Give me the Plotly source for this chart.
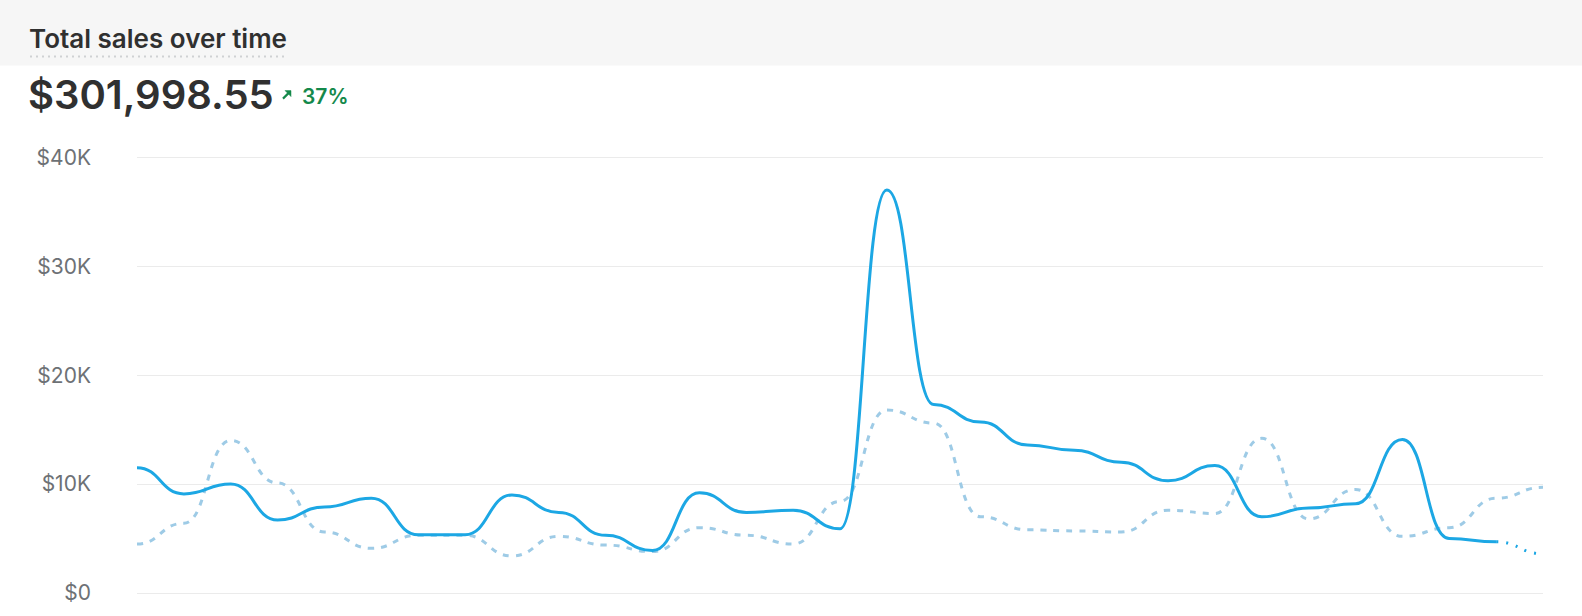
import plotly.graph_objects as go

# Daily sales (current period) and previous period, in dollars
days = list(range(31))
current_sales = [11500, 9100, 10000, 6700, 7900, 8700, 5350, 5350, 9000, 7400,
                 5300, 3900, 9200, 7400, 7600, 5900, 37000, 17300, 15700, 13600,
                 13100, 12000, 10300, 11700, 7000, 7800, 8200, 14100, 5000, 4700,
                 3600]
previous_sales = [4500, 6400, 14000, 10100, 5600, 4100, 5300, 5300, 3400, 5200,
                  4400, 3800, 6000, 5300, 4500, 8400, 16800, 15600, 7000, 5800,
                  5700, 5600, 7600, 7300, 14200, 6800, 9500, 5200, 6000, 8700,
                  9700]
tick_values = [0, 10000, 20000, 30000, 40000]
tick_labels = ["$0", "$10K", "$20K", "$30K", "$40K"]

title_text = "Total sales over time"
total_text = "$301,998.55"
change_text = "37%"

BLUE = "#1ca7e4"
LIGHT_BLUE = "#9ecbe6"
GREEN = "#14894b"
DARK = "#303030"

# Figure geometry (pixels); y range is padded a bit so the $40K grid line shows
W, H = 1582, 616
Y_MAX = 40400
L, R, B = 137, 39, 23
zero_y = H - B
px_per_dollar = (zero_y - 157.7) / 40000
T = zero_y - px_per_dollar * Y_MAX
plot_w = W - L - R
plot_h = H - T - B


def px(x):
    return (x - L) / plot_w


def py(y):
    return (H - B - y) / plot_h


def bump_path(xs, ys):
    # horizontal-tangent cubic between each pair of points (like d3 curveBumpX),
    # in data coordinates so the axes do the mapping
    parts = [f"M {xs[0]} {ys[0]}"]
    for i in range(1, len(xs)):
        xm = (xs[i - 1] + xs[i]) / 2
        parts.append(f"C {xm} {ys[i - 1]} {xm} {ys[i]} {xs[i]} {ys[i]}")
    return " ".join(parts)


fig = go.Figure()

# points kept as (invisible) markers for hover; lines drawn as curves below
fig.add_trace(go.Scatter(
    x=days, y=previous_sales, mode="markers", name="Previous period",
    marker=dict(color=LIGHT_BLUE, size=8, opacity=0),
    hovertemplate="$%{y:,.0f}<extra></extra>", showlegend=False,
))
fig.add_trace(go.Scatter(
    x=days, y=current_sales, mode="markers", name="Current period",
    marker=dict(color=BLUE, size=8, opacity=0),
    hovertemplate="$%{y:,.0f}<extra></extra>", showlegend=False,
))

fig.add_shape(type="path", xref="x", yref="y",
              path=bump_path(days, previous_sales),
              line=dict(color=LIGHT_BLUE, width=3, dash="6px,7px"))
fig.add_shape(type="path", xref="x", yref="y",
              path=bump_path(days[:-1], current_sales[:-1]),
              line=dict(color=BLUE, width=3))
# last (incomplete) day drawn dotted
fig.add_shape(type="path", xref="x", yref="y",
              path=bump_path(days[-2:], current_sales[-2:]),
              line=dict(color=BLUE, width=3, dash="2px,8px"))

# header band and dotted underline
fig.add_shape(type="rect", xref="paper", yref="paper",
              x0=px(0), x1=px(W), y0=py(66), y1=py(0),
              fillcolor="#f6f6f6", line_width=0, layer="below")
fig.add_shape(type="line", xref="paper", yref="paper",
              x0=px(30), x1=px(285), y0=py(57), y1=py(57),
              line=dict(color="#cfd1d3", width=2, dash="2px,4px"))

fig.add_annotation(text=title_text, xref="paper", yref="paper",
                   x=px(27), y=py(39), xanchor="left", yanchor="middle",
                   showarrow=False,
                   font=dict(family="Inter", size=26, color=DARK, weight=600))
fig.add_annotation(text=total_text, xref="paper", yref="paper",
                   x=px(26), y=py(95), xanchor="left", yanchor="middle",
                   showarrow=False,
                   font=dict(family="Inter", size=40, color=DARK, weight=600))
fig.add_annotation(text=change_text, xref="paper", yref="paper",
                   x=px(300), y=py(97), xanchor="left", yanchor="middle",
                   showarrow=False,
                   font=dict(family="Inter", size=21, color=GREEN, weight=600))

# small up-right arrow: shaft + head
fig.add_shape(type="line", xref="paper", yref="paper",
              x0=px(283), y0=py(99), x1=px(289), y1=py(93),
              line=dict(color=GREEN, width=2.2))
fig.add_shape(type="path", xref="paper", yref="paper",
              path=f"M {px(285)} {py(91)} L {px(291)} {py(91)} L {px(291)} {py(97)} Z",
              fillcolor=GREEN, line=dict(color=GREEN, width=0.5))

fig.update_layout(
    width=W, height=H,
    margin=dict(l=L, r=R, t=T, b=B),
    paper_bgcolor="white", plot_bgcolor="white",
    font=dict(family="Inter", color="#6d7175"),
    hovermode="x",
    xaxis=dict(range=[0, 30], showgrid=False, showticklabels=False,
               zeroline=False, showline=False, ticks=""),
    yaxis=dict(range=[0, Y_MAX], tickvals=tick_values, ticktext=tick_labels,
               showgrid=True, gridcolor="#ebebeb", gridwidth=1,
               zeroline=True, zerolinecolor="#ebebeb", zerolinewidth=1,
               showline=False, ticks="", ticklabelstandoff=45,
               tickfont=dict(family="Inter", size=21, color="#6d7175")),
)

fig.write_html("out.html", config={"displayModeBar": False},
               post_script="document.body.style.margin='0';")
